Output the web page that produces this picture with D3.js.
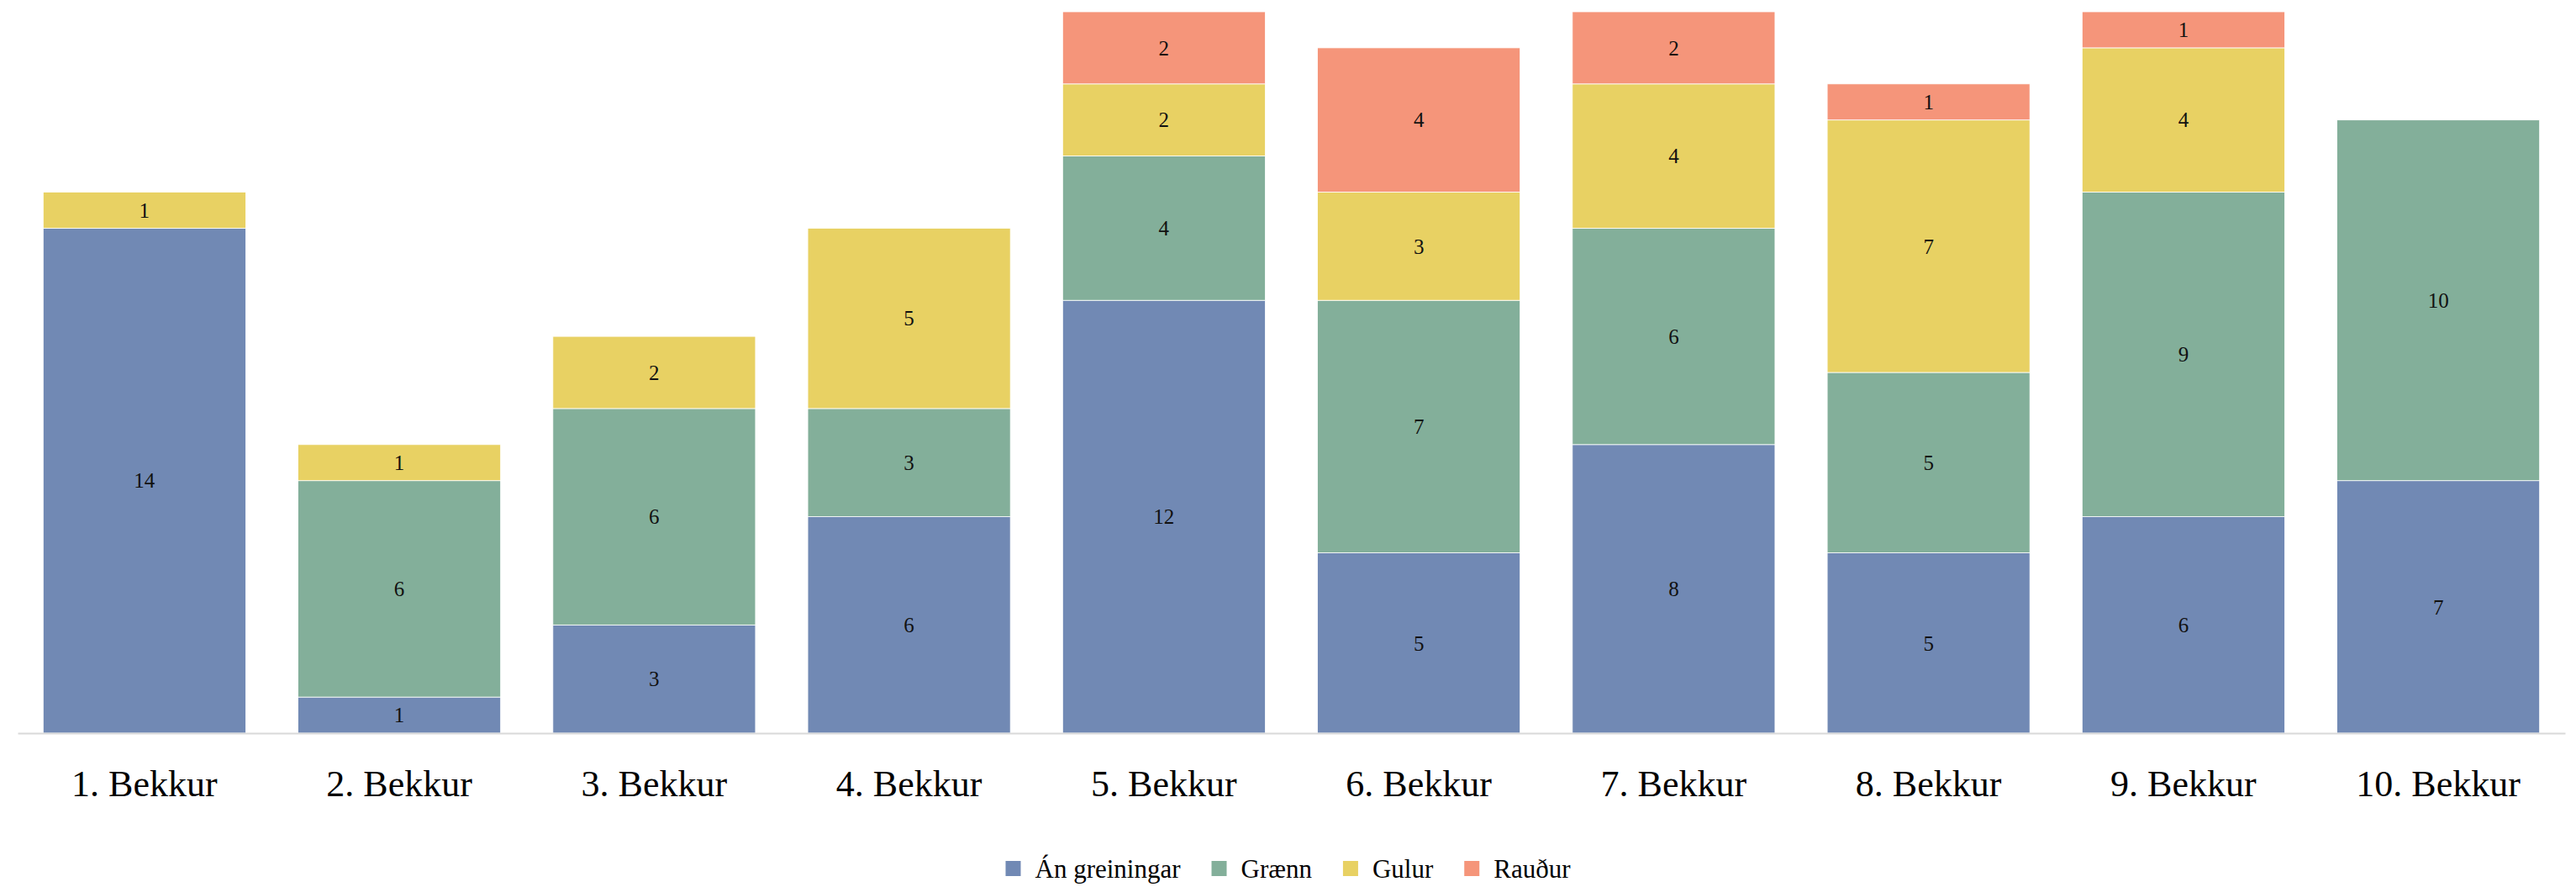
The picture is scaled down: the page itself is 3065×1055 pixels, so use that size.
<!DOCTYPE html>
<html>
<head>
<meta charset="utf-8">
<script src="https://cdn.jsdelivr.net/npm/d3@7"></script>
<style>
  body { margin: 0; background: #fff; }
  svg { display: block; font-family: "Palatino Linotype", "Book Antiqua", Palatino, "Liberation Serif", serif; }
</style>
</head>
<body>
<div id="chart"></div>
<script>
// DATA
const categories = ["1. Bekkur", "2. Bekkur", "3. Bekkur", "4. Bekkur", "5. Bekkur",
                    "6. Bekkur", "7. Bekkur", "8. Bekkur", "9. Bekkur", "10. Bekkur"];
const seriesNames = ["Án greiningar", "Grænn", "Gulur", "Rauður"];
const anGreiningar = [14, 1, 3, 6, 12, 5, 8, 5, 6, 7];
const graenn       = [0, 6, 6, 3, 4, 7, 6, 5, 9, 10];
const gulur        = [1, 1, 2, 5, 2, 3, 4, 7, 4, 0];
const raudur       = [0, 0, 0, 0, 2, 4, 2, 1, 1, 0];
const colors = ["#7189b4", "#83af9a", "#e8d163", "#f5957a"];

const width = 3065, height = 1055;
const margin = {top: 14, right: 13, bottom: 183, left: 21};
const serif = '"Palatino Linotype", "Book Antiqua", Palatino, "Liberation Serif", serif';

// build table for d3.stack
const table = categories.map((c, i) => ({
  cat: c,
  "Án greiningar": anGreiningar[i],
  "Grænn": graenn[i],
  "Gulur": gulur[i],
  "Rauður": raudur[i]
}));

const stacked = d3.stack().keys(seriesNames)(table);

const svg = d3.select("#chart")
  .append("svg")
    .attr("width", width)
    .attr("height", height);

// SCALES
const xScale = d3.scaleBand()
  .domain(categories)
  .range([margin.left, width - margin.right])
  .paddingInner(0.205)
  .paddingOuter(0.1);

const yScale = d3.scaleLinear()
  .domain([0, 20])
  .range([height - margin.bottom, margin.top]);

const color = d3.scaleOrdinal().domain(seriesNames).range(colors);

// BARS
const layers = svg.append("g")
  .selectAll("g")
  .data(stacked)
  .join("g")
    .attr("fill", d => color(d.key));

layers.selectAll("rect")
  .data(d => d)
  .join("rect")
    .attr("x", d => xScale(d.data.cat))
    .attr("y", d => yScale(d[1]))
    .attr("width", xScale.bandwidth())
    .attr("height", d => yScale(d[0]) - yScale(d[1]))
    .attr("stroke", "#fff")
    .attr("stroke-width", 0.8);

// VALUE LABELS (skip zeros)
layers.selectAll("text")
  .data(d => d.filter(s => s[1] - s[0] > 0))
  .join("text")
    .attr("x", d => xScale(d.data.cat) + xScale.bandwidth() / 2)
    .attr("y", d => (yScale(d[0]) + yScale(d[1])) / 2)
    .attr("dy", "0.35em")
    .attr("text-anchor", "middle")
    .attr("fill", "#111")
    .style("font-size", "25px")
    .text(d => d[1] - d[0]);

// X AXIS
const xAxis = d3.axisBottom(xScale).tickSize(0).tickPadding(44);
const xAxisGroup = svg.append("g")
  .attr("transform", `translate(0, ${yScale(0)})`)
  .call(xAxis)
  .attr("font-family", serif)
  .attr("font-size", 44);
xAxisGroup.select(".domain").attr("stroke", "#d9d9d9").attr("stroke-width", 2);
xAxisGroup.selectAll("text").attr("fill", "#000");

// LEGEND
const legend = svg.append("g").attr("class", "legend");
const legendY = 1033;
let lx = 0;
seriesNames.forEach((name, i) => {
  const item = legend.append("g").attr("transform", `translate(${lx}, 0)`);
  item.append("rect")
    .attr("x", 0)
    .attr("y", legendY - 9)
    .attr("width", 18)
    .attr("height", 18)
    .attr("fill", colors[i]);
  const t = item.append("text")
    .attr("x", 35)
    .attr("y", legendY)
    .attr("dy", "0.35em")
    .attr("fill", "#000")
    .style("font-size", "31px")
    .text(name);
  lx += 35 + t.node().getComputedTextLength() + 37;
});
const legendWidth = lx - 37;
legend.attr("transform", `translate(${(width - legendWidth) / 2}, 0)`);
</script>
</body>
</html>
